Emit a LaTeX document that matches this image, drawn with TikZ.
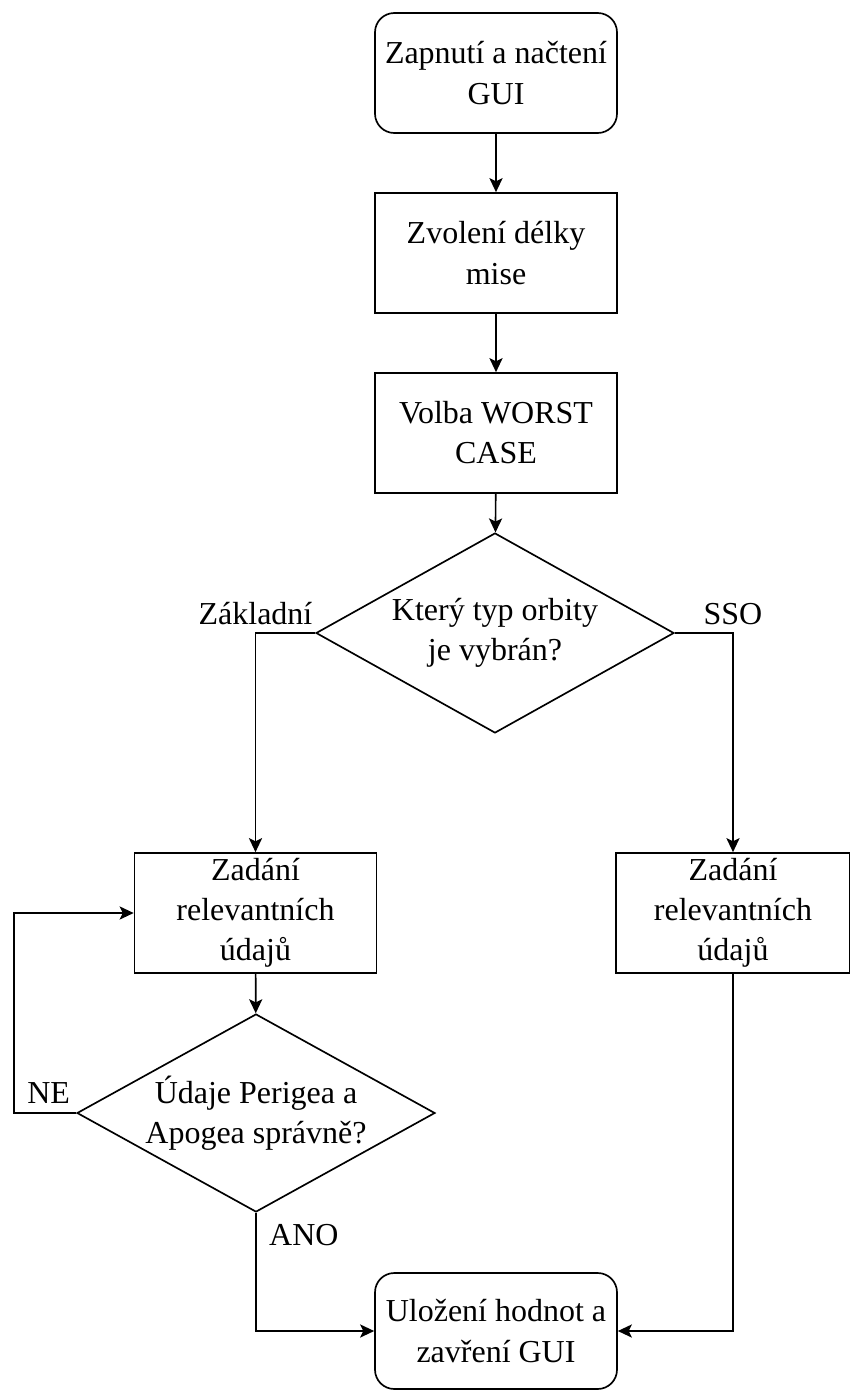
\documentclass[tikz,border=0pt]{standalone}
\usepackage{fontspec}
\setmainfont{Liberation Serif}
\usetikzlibrary{shapes.geometric,arrows.meta}

\begin{document}
\begin{tikzpicture}[
    every node/.style={font=\rmfamily\fontsize{18.2}{22.8}\selectfont, align=center},
    proc/.style={draw, line width=0.95pt, minimum width=4.84cm, minimum height=2.4cm, inner sep=0pt},
    term/.style={proc, rounded corners=11pt},
    decide/.style={draw, line width=0.95pt, diamond, aspect=1.79, inner sep=0pt, minimum width=7.16cm, minimum height=4cm},
    flow/.style={line width=0.95pt, -{Stealth[length=8pt,width=7.5pt,inset=1.8pt]}}
  ]
        \useasboundingbox (0,0) rectangle (17,-27.82);

        \node [term] (start) at (9.92, -1.46) {Zapnutí a načtení\\GUI};
        \node [proc] (mise) at (9.92, -5.06) {Zvolení délky\\mise};
        \node [proc] (worst) at (9.92, -8.66) {Volba WORST\\CASE};
        \node [decide] (orbit) at (9.9, -12.66) {Který typ orbity\\je vybrán?};

        \node [proc] (zadL) at (5.11, -18.26) {Zadání\\relevantních\\údajů};
        \node [proc, minimum width=4.68cm] (zadR) at (14.66, -18.26) {Zadání\\relevantních\\údajů};
        \node [decide, minimum height=3.96cm] (check) at (5.12, -22.26) {Údaje Perigea a\\Apogea správně?};
        \node [term, minimum height=2.32cm] (konec) at (9.92, -26.62) {Uložení hodnot a\\zavření GUI};

        \draw [flow] (start) -- (mise);
        \draw [flow] (mise) -- (worst);
        \draw [flow] (worst) -- (orbit);
        \draw [flow] (orbit.west) -| (zadL.north);
        \draw [flow] (orbit.east) -| (zadR.north);
        \draw [flow] (zadL) -- (check);
        \draw [flow] (check.west) -- ++(-1.24, 0) |- (zadL.west);
        \draw [flow] (check.south) |- (konec.west);
        \draw [flow] (zadR.south) |- (konec.east);

        \node [anchor=base] (lblZakl) at ([yshift=0.18cm]zadL.north |- orbit.west) {Základní};
        \node [anchor=base] (lblSSO) at ([yshift=0.18cm]zadR.north |- orbit.east) {SSO};
        \node [anchor=base east] (lblNE) at ([yshift=0.2cm]check.west) {NE};
        \node [anchor=base west] (lblANO) at ([xshift=0.14cm, yshift=-0.66cm]check.south) {ANO};
      \end{tikzpicture}
\end{document}
